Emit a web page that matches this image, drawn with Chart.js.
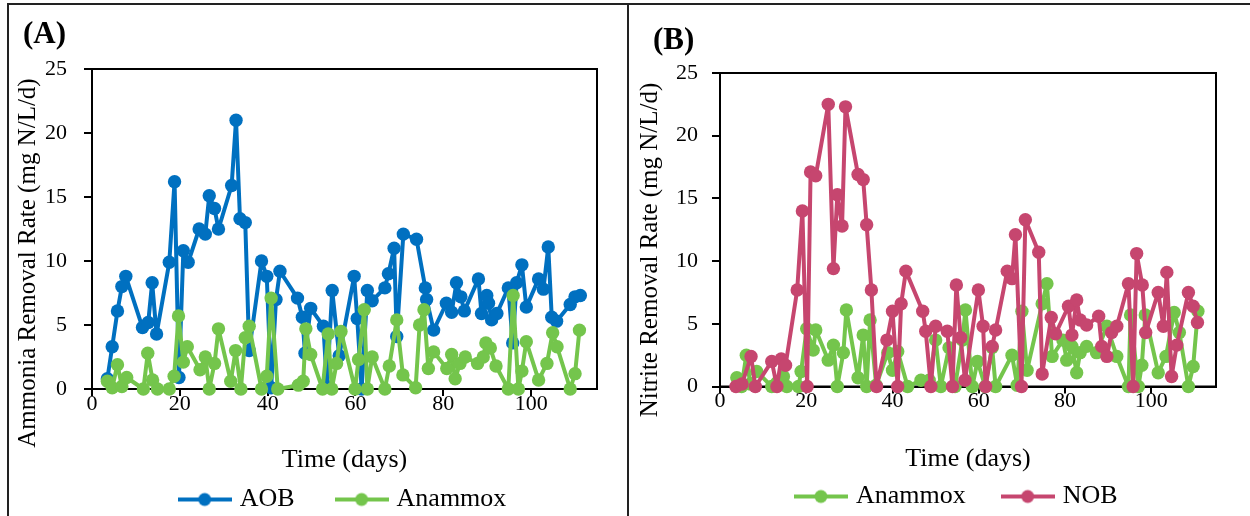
<!DOCTYPE html>
<html>
<head>
<meta charset="utf-8">
<script src="https://cdn.jsdelivr.net/npm/chart.js@4.4.1/dist/chart.umd.min.js"></script>
<style>
  html, body { margin: 0; padding: 0; background: #fff; }
  body { width: 1250px; height: 516px; position: relative; overflow: hidden; }
  .box { position: absolute; top: 3px; height: 600px; border: 2px solid #222; }
  #boxA { left: 7px; width: 618px; }
  #boxB { left: 627px; width: 700px; }
  .tag { position: absolute; font: bold 31px "Liberation Serif", "Times New Roman", serif; line-height: 1; color: #000; }
  canvas { position: absolute; top: 0; }
</style>
</head>
<body>
<div class="box" id="boxA"></div>
<div class="box" id="boxB"></div>
<canvas id="chartA" width="628" height="516" style="left:0"></canvas>
<canvas id="chartB" width="622" height="516" style="left:628px"></canvas>
<div class="tag" style="left:23px;top:17px">(A)</div>
<div class="tag" style="left:653px;top:23px">(B)</div>
<script>
// panel A: ammonia removal
const aobDays = [3.5, 4.6, 5.8, 6.8, 7.7, 11.5, 12.8, 13.7, 14.7, 17.6, 18.8, 19.8, 20.8, 21.9,
  24.4, 25.8, 26.7, 27.9, 28.8, 31.8, 32.8, 33.7, 34.9, 35.8, 38.6, 39.8, 40.8, 41.9, 42.8,
  46.8, 47.9, 48.5, 49.8, 52.7, 53.5, 54.7, 56.3, 59.7, 60.4, 61.4, 62.7, 63.8, 66.7, 67.5,
  68.8, 69.4, 70.9, 73.9, 75.9, 76.2, 77.8, 80.7, 81.9, 83.0, 84.0, 84.8, 88.0, 88.7, 89.9,
  90.3, 91.0, 92.2, 94.8, 95.8, 96.7, 97.9, 98.9, 101.7, 102.8, 103.9, 104.7, 105.8, 108.9,
  110.0, 111.2];
const aobRate = [0.8, 3.3, 6.1, 8.0, 8.8, 4.8, 5.2, 8.3, 4.3, 9.9, 16.2, 0.9, 10.8, 9.9,
  12.5, 12.1, 15.1, 14.1, 12.5, 15.9, 21.0, 13.3, 13.0, 3.0, 10.0, 8.8, 0.1, 7.0, 9.2,
  7.1, 5.6, 2.8, 6.3, 4.9, 0.2, 7.7, 2.6, 8.8, 5.5, 0.0, 7.7, 6.9, 7.9, 9.0,
  11.0, 4.1, 12.1, 11.7, 7.9, 7.0, 4.6, 6.7, 6.0, 8.3, 7.2, 6.1, 8.6, 5.9, 7.3,
  6.7, 5.4, 5.9, 7.9, 3.6, 8.3, 9.7, 6.4, 8.6, 7.8, 11.1, 5.6, 5.3, 6.6,
  7.2, 7.3];
const amxADays = [3.5, 4.6, 5.8, 6.8, 7.9, 11.7, 12.7, 13.8, 14.9, 17.6, 18.7, 19.7, 20.8, 21.7,
  24.6, 25.8, 26.7, 27.9, 28.8, 31.6, 32.7, 33.9, 34.9, 35.8, 38.6, 39.8, 40.8, 42.3,
  47.0, 48.1, 48.7, 49.8, 52.5, 53.8, 54.6, 55.7, 56.7, 59.9, 60.7, 62.0, 62.7, 63.8,
  66.7, 67.7, 69.4, 70.8, 73.7, 74.6, 75.6, 76.6, 77.8, 80.8, 81.9, 82.7, 83.8, 85.0,
  87.8, 89.1, 89.7, 90.7, 92.0, 94.8, 95.9, 97.1, 97.9, 98.9, 101.7, 103.6, 104.9, 105.9,
  108.9, 110.0, 111.0];
const amxARate = [0.6, 0.1, 1.9, 0.2, 0.9, 0.0, 2.8, 0.7, 0.0, 0.0, 1.0, 5.7, 2.1, 3.3,
  1.5, 2.5, 0.0, 2.0, 4.7, 0.6, 3.0, 0.0, 4.0, 4.9, 0.0, 1.0, 7.1, 0.0,
  0.3, 0.6, 4.7, 2.7, 0.0, 4.3, 0.0, 2.0, 4.5, 0.0, 2.3, 6.2, 0.0, 2.5,
  0.0, 1.8, 5.4, 1.1, 0.1, 5.0, 6.2, 1.6, 2.9, 1.6, 2.7, 0.8, 2.0, 2.5,
  2.0, 2.5, 3.6, 3.2, 1.8, 0.0, 7.3, 0.0, 1.4, 3.7, 0.7, 2.0, 4.4, 3.3,
  0.0, 1.2, 4.6];

// panel B: nitrite removal
const amxBDays = [3.9, 5.0, 6.1, 7.0, 8.5, 12.0, 13.2, 14.7, 15.5, 18.2, 18.8, 20.1, 21.6, 22.2,
  25.1, 26.3, 27.2, 28.6, 29.3, 32.0, 33.2, 34.0, 34.8, 36.2, 38.9, 40.0, 41.2, 43.5,
  46.6, 48.5, 50.0, 51.2, 53.1, 54.5, 56.2, 56.9, 58.5, 59.7, 61.5, 63.1, 63.9,
  67.7, 68.9, 70.0, 71.2, 74.7, 75.8, 77.0, 79.5, 80.4, 81.6, 82.7, 83.5, 85.0,
  87.3, 89.7, 92.0, 94.7, 95.2, 97.0, 97.8, 98.6, 101.6, 103.4, 105.3, 106.5,
  108.6, 109.7, 110.8];
const amxBRate = [0.7, 0.0, 2.5, 0.2, 1.2, 0.0, 0.3, 0.8, 0.0, 0.0, 1.2, 4.6, 2.9, 4.5,
  2.1, 3.3, 0.0, 2.7, 6.1, 0.7, 4.1, 0.0, 5.3, 0.1, 2.7, 1.3, 2.8, 0.0,
  0.5, 0.5, 3.7, 0.0, 3.1, 0.0, 3.7, 6.1, 0.0, 2.0, 0.0, 3.1, 0.0,
  2.5, 0.1, 6.0, 1.3, 6.6, 8.2, 2.4, 3.7, 2.1, 3.2, 1.1, 2.7, 3.2,
  2.7, 4.8, 2.4, 0.0, 5.7, 0.0, 1.7, 5.7, 1.1, 2.4, 5.9, 4.3,
  0.0, 1.6, 6.0];
const nobDays = [3.7, 5.1, 7.2, 8.2, 12.0, 13.2, 14.2, 15.2, 17.9, 19.1, 20.2, 21.0, 22.2,
  25.1, 26.3, 27.2, 28.3, 29.1, 32.0, 33.2, 34.0, 35.1, 36.3, 38.7, 40.0, 41.2, 42.0, 43.1,
  47.0, 47.7, 48.9, 50.0, 52.7, 53.9, 54.8, 55.8, 56.8, 59.9, 61.0, 61.6, 63.1, 63.9,
  66.6, 67.7, 68.5, 69.9, 70.8, 73.9, 74.7, 76.8, 77.8, 80.8, 81.6, 82.7, 83.5, 85.0,
  87.8, 88.5, 89.7, 90.8, 92.0, 94.7, 95.8, 96.6, 97.9, 98.7, 101.6, 102.8, 103.6, 104.7,
  105.9, 108.6, 109.7, 110.7];
const nobRate = [0.0, 0.2, 2.4, 0.0, 2.0, 0.0, 2.2, 1.7, 7.7, 14.0, 0.0, 17.1, 16.8,
  22.5, 9.4, 15.3, 12.8, 22.3, 16.9, 16.5, 12.9, 7.7, 0.0, 3.7, 6.0, 0.0, 6.6, 9.2,
  6.0, 4.4, 0.0, 4.8, 4.4, 0.0, 8.1, 3.9, 0.5, 7.7, 4.8, 0.0, 3.2, 4.5,
  9.2, 8.6, 12.1, 0.0, 13.3, 10.7, 1.0, 5.5, 4.2, 6.4, 4.1, 6.9, 5.3, 4.9,
  5.6, 3.2, 2.4, 4.3, 4.8, 8.2, 0.0, 10.6, 8.1, 4.3, 7.5, 4.8, 9.1, 0.8,
  3.3, 7.5, 6.4, 5.1];

const blue = '#0070c0';
const green = '#74c54c';
const pink = '#c6466f';
const serif = '"Liberation Serif", "Times New Roman", serif';

Chart.defaults.font.family = serif;
Chart.defaults.color = '#000';

const toPoints = (days, rate) => days.map((d, i) => ({ x: d, y: rate[i] }));

function legendMark(color) {
  const c = document.createElement('canvas');
  c.width = 54;
  c.height = 16;
  const g = c.getContext('2d');
  g.strokeStyle = color;
  g.lineWidth = 4;
  g.beginPath();
  g.moveTo(0, 8);
  g.lineTo(54, 8);
  g.stroke();
  g.fillStyle = color;
  g.beginPath();
  g.arc(27, 8, 6.5, 0, Math.PI * 2);
  g.fill();
  return c;
}

function series(label, days, rate, color, order) {
  return {
    label: label,
    data: toPoints(days, rate),
    borderColor: color,
    backgroundColor: color,
    borderWidth: 4,
    borderJoinStyle: 'round',
    pointRadius: 6.7,
    pointBorderWidth: 0,
    pointBackgroundColor: color,
    clip: false,
    order: order,
  };
}

// plot frame (top and right sides of the box)
const frame = {
  id: 'frame',
  beforeDatasetsDraw(chart) {
    const { ctx, chartArea: a } = chart;
    ctx.save();
    ctx.strokeStyle = '#000';
    ctx.lineWidth = 2;
    ctx.strokeRect(a.left, a.top, a.right - a.left, a.bottom - a.top);
    ctx.restore();
  },
};

// rotated y axis title; in the original it sits lower than the plot centre
const yLabel = {
  id: 'yLabel',
  afterDraw(chart, args, opts) {
    const { ctx } = chart;
    ctx.save();
    ctx.translate(opts.x, opts.y);
    ctx.rotate(-Math.PI / 2);
    ctx.font = '25px ' + serif;
    ctx.fillStyle = '#000';
    ctx.textAlign = 'center';
    ctx.textBaseline = 'middle';
    ctx.fillText(opts.text, 0, 0);
    ctx.restore();
  },
};

function makePanel(id, datasets, yTitle, g) {
  const marks = datasets.map((d) => legendMark(d.borderColor));
  const last = datasets.length - 1;
  return new Chart(document.getElementById(id), {
    type: 'line',
    data: { datasets: datasets },
    plugins: [frame, yLabel],
    options: {
      responsive: false,
      animation: false,
      layout: { padding: { left: 0, top: g.top, right: g.right, bottom: g.bottom } },
      plugins: {
        tooltip: { enabled: false },
        yLabel: { text: yTitle, x: g.yTitleX, y: g.yTitleY },
        legend: {
          position: 'bottom',
          fullSize: false,
          maxHeight: 70,
          labels: {
            usePointStyle: true,
            pointStyleWidth: 44,
            padding: g.legendPad,
            font: { size: 26, lineHeight: 1 },
            color: '#000',
            sort: (a, b) => a.datasetIndex - b.datasetIndex,
            generateLabels(chart) {
              return Chart.defaults.plugins.legend.labels.generateLabels(chart).map((l) => ({
                ...l,
                // trailing blanks nudge the centred legend left, as in the original
                text: l.datasetIndex === last ? l.text + g.legendTail : l.text,
                pointStyle: marks[l.datasetIndex],
              }));
            },
          },
        },
      },
      scales: {
        x: {
          type: 'linear',
          min: 0,
          max: 115,
          ticks: { stepSize: 20, includeBounds: false, maxRotation: 0, padding: -3,
            font: { size: 22, lineHeight: 1 }, color: '#000' },
          grid: { drawOnChartArea: false, tickLength: 7, color: '#000', lineWidth: 2 },
          border: { color: '#000', width: 2 },
          title: { display: true, text: 'Time (days)', color: '#000',
            font: { size: 26, lineHeight: 1 }, padding: { top: 0, bottom: g.xTitlePad } },
          afterFit: (s) => { s.height = g.xHeight; },
        },
        y: {
          min: 0,
          max: 25,
          ticks: { stepSize: 5, padding: g.yTickPad, font: { size: 22, lineHeight: 1 }, color: '#000' },
          grid: { drawOnChartArea: false, tickLength: 8, color: '#000', lineWidth: 2 },
          border: { color: '#000', width: 2 },
          afterFit: (s) => { s.width = 92; },
        },
      },
    },
  });
}

makePanel('chartA', [
  series('AOB', aobDays, aobRate, blue, 1),
  series('Anammox', amxADays, amxARate, green, 0),
], 'Ammonia Removal Rate (mg N/L/d)',
{ top: 69, right: 31, bottom: 4.5, xHeight: 52.5, xTitlePad: -32, legendPad: 45,
  legendTail: '', yTickPad: 17, yTitleX: 28, yTitleY: 263 });

makePanel('chartB', [
  series('Anammox', amxBDays, amxBRate, green, 1),
  series('NOB', nobDays, nobRate, pink, 0),
], 'Nitrite Removal Rate (mg N/L/d)',
{ top: 73, right: 34, bottom: 2.5, xHeight: 57, xTitlePad: -29, legendPad: 40,
  legendTail: '   ', yTickPad: 14, yTitleX: 22, yTitleY: 250 });
</script>
</body>
</html>
